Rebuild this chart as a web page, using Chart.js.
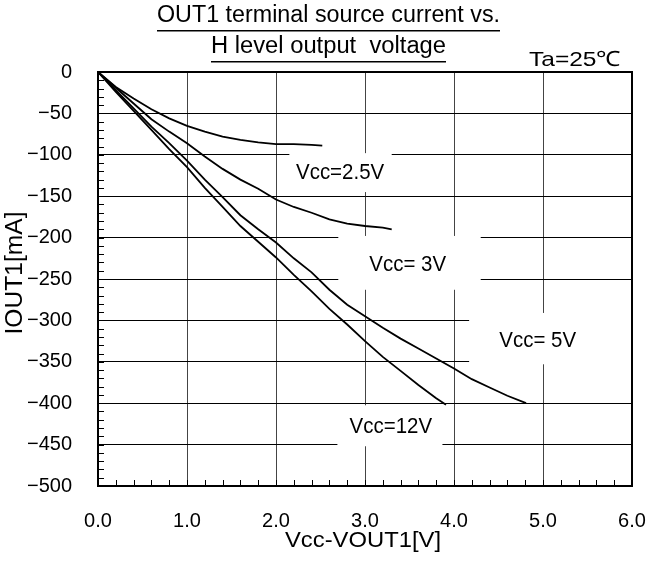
<!DOCTYPE html>
<html>
<head>
<meta charset="utf-8">
<script src="https://cdn.jsdelivr.net/npm/chart.js@4.4.0/dist/chart.umd.min.js"></script>
<style>
  html, body { margin: 0; padding: 0; background: #fff; }
</style>
</head>
<body>
<canvas id="chart" width="647" height="561"></canvas>
<script>
// ---- data ----
const vcc25X = [0, 0.2, 0.4, 0.6, 0.8, 1.0, 1.2, 1.4, 1.6, 1.8, 2.0, 2.2, 2.4, 2.52];
const vcc25Y = [0, -18, -32, -45, -56, -65, -72, -78, -82, -85, -87, -87, -88, -89];

const vcc3X = [0, 0.2, 0.4, 0.6, 0.8, 1.0, 1.2, 1.4, 1.6, 1.8, 2.0, 2.2, 2.4, 2.6, 2.8, 3.0, 3.2, 3.3];
const vcc3Y = [0, -19, -38, -57, -72, -86, -102, -117, -130, -141, -154, -163, -170, -178, -183, -186, -188, -190];

const vcc5X = [0, 0.2, 0.4, 0.6, 0.8, 1.0, 1.2, 1.4, 1.6, 1.8, 2.0, 2.2, 2.4, 2.6, 2.8, 3.0, 3.2, 3.4, 3.6, 3.8, 4.0, 4.2, 4.4, 4.6, 4.81];
const vcc5Y = [0, -22, -44, -66, -86, -107, -130, -151, -173, -190, -206, -225, -242, -263, -281, -295, -309, -322, -334, -346, -358, -371, -381, -391, -400];

const vcc12X = [0, 0.2, 0.4, 0.6, 0.8, 1.0, 1.2, 1.4, 1.6, 1.8, 2.0, 2.2, 2.4, 2.6, 2.8, 3.0, 3.2, 3.4, 3.6, 3.8, 3.91];
const vcc12Y = [0, -24, -47, -70, -93, -115, -140, -163, -186, -205, -224, -245, -265, -286, -305, -325, -344, -361, -378, -394, -402];

const seriesNames = ['Vcc=2.5V', 'Vcc= 3V', 'Vcc= 5V', 'Vcc=12V'];

const xMin = 0, xMax = 6, xStep = 1, xMinor = 0.2;
const yMin = -500, yMax = 0, yStep = 50, yMinor = 10;

const FONT = '"Liberation Sans", Arial, sans-serif';

function toPoints(xs, ys) {
  return xs.map((x, i) => ({ x: x, y: ys[i] }));
}

// draw text at a given font size, squeezed sideways to cover the given width
function drawFitted(ctx, text, x, y, size, width) {
  ctx.save();
  ctx.font = size + 'px ' + FONT;
  const sx = width / ctx.measureText(text).width;
  ctx.translate(x, y);
  ctx.scale(sx, 1);
  ctx.fillText(text, 0, 0);
  ctx.restore();
}

// curve names sit on white patches that hide the grid (data units)
const labelBoxes = [
  { text: seriesNames[0], x0: 2.15, x1: 3.3, y0: -98, y1: -145, tx: 2.72, ty: -122 },
  { text: seriesNames[1], x0: 2.70, x1: 4.30, y0: -198, y1: -263, tx: 3.48, ty: -233 },
  { text: seriesNames[2], x0: 4.17, x1: 6.0, y0: -291, y1: -353, tx: 4.94, ty: -325 },
  { text: seriesNames[3], x0: 2.69, x1: 3.87, y0: -402.5, y1: -452, tx: 3.29, ty: -429 }
];

const decorPlugin = {
  id: 'decor',
  beforeDatasetsDraw(chart) {
    const ctx = chart.ctx;
    const xs = chart.scales.x, ys = chart.scales.y;
    ctx.save();
    labelBoxes.forEach(b => {
      const l = xs.getPixelForValue(b.x0), r = xs.getPixelForValue(b.x1);
      const t = ys.getPixelForValue(b.y0), bt = ys.getPixelForValue(b.y1);
      ctx.fillStyle = '#fff';
      ctx.fillRect(l, t, r - l, bt - t);
      ctx.fillStyle = '#000';
      ctx.textAlign = 'center';
      ctx.textBaseline = 'middle';
      ctx.font = '22px ' + FONT;
      const w = ctx.measureText(b.text).width * 0.93;
      drawFitted(ctx, b.text, xs.getPixelForValue(b.tx), ys.getPixelForValue(b.ty), 22, w);
    });
    ctx.restore();
  },
  afterDraw(chart) {
    const ctx = chart.ctx;
    const a = chart.chartArea;
    const xs = chart.scales.x, ys = chart.scales.y;
    ctx.save();
    // minor ticks, pointing inward
    ctx.strokeStyle = '#000';
    ctx.lineWidth = 1;
    ctx.beginPath();
    for (let v = yMin; v <= yMax; v += yMinor) {
      const py = Math.round(ys.getPixelForValue(v)) + 0.5;
      ctx.moveTo(a.left, py);
      ctx.lineTo(a.left + 6, py);
    }
    for (let v = xMin; v <= xMax + 1e-9; v += xMinor) {
      const px = Math.round(xs.getPixelForValue(v)) + 0.5;
      ctx.moveTo(px, a.bottom);
      ctx.lineTo(px, a.bottom - 6);
    }
    ctx.stroke();
    // frame
    ctx.lineWidth = 2;
    ctx.strokeRect(a.left, a.top, a.right - a.left, a.bottom - a.top);

    // titles (underlined)
    ctx.fillStyle = '#000';
    ctx.textAlign = 'center';
    ctx.textBaseline = 'middle';
    const titles = [
      { text: 'OUT1 terminal source current vs.', x: 328.5, y: 16, w: 343, ul: 30 },
      { text: 'H level output  voltage', x: 328.5, y: 47, w: 235, ul: 61 }
    ];
    titles.forEach(t => {
      drawFitted(ctx, t.text, t.x, t.y, 23, t.w);
      ctx.fillRect(t.x - t.w / 2, t.ul, t.w, 1.5);
    });
    drawFitted(ctx, 'Ta=25\u2103', 575, 60, 21, 92);

    // axis titles
    drawFitted(ctx, 'Vcc-VOUT1[V]', 363, 541, 22, 156);
    ctx.translate(16, 273);
    ctx.rotate(-Math.PI / 2);
    drawFitted(ctx, 'IOUT1[mA]', 0, 0, 23, 123);
    ctx.restore();
  }
};

const lineStyle = {
  showLine: true,
  borderColor: '#000',
  borderWidth: 1.8,
  pointRadius: 0,
  fill: false,
  tension: 0
};

new Chart(document.getElementById('chart'), {
  type: 'scatter',
  data: {
    datasets: [
      Object.assign({ label: seriesNames[0], data: toPoints(vcc25X, vcc25Y) }, lineStyle),
      Object.assign({ label: seriesNames[1], data: toPoints(vcc3X, vcc3Y) }, lineStyle),
      Object.assign({ label: seriesNames[2], data: toPoints(vcc5X, vcc5Y) }, lineStyle),
      Object.assign({ label: seriesNames[3], data: toPoints(vcc12X, vcc12Y) }, lineStyle)
    ]
  },
  options: {
    responsive: false,
    animation: false,
    layout: { padding: { top: 72, right: 15, left: 0, bottom: 0 } },
    plugins: {
      legend: { display: false },
      tooltip: { enabled: false }
    },
    scales: {
      x: {
        type: 'linear',
        min: xMin,
        max: xMax,
        afterFit(scale) {
          scale.height = 75;
          // tick padding is otherwise added to the side padding as well
          scale.paddingLeft = 14;
          scale.paddingRight = 14;
        },
        ticks: {
          stepSize: xStep,
          color: '#000',
          padding: 23,
          maxRotation: 0,
          font: { family: FONT, size: 20 },
          callback: v => v.toFixed(1)
        },
        grid: { color: '#444', lineWidth: 1, drawTicks: false },
        border: { display: true, color: '#000', width: 2 }
      },
      y: {
        type: 'linear',
        min: yMin,
        max: yMax,
        afterFit(scale) { scale.width = 98; },
        ticks: {
          stepSize: yStep,
          color: '#000',
          padding: 26,
          font: { family: FONT, size: 20 },
          callback: v => String(v).replace('-', '\u2212')
        },
        grid: { color: '#000', lineWidth: 1, drawTicks: false },
        border: { display: true, color: '#000', width: 2 }
      }
    }
  },
  plugins: [decorPlugin]
});
</script>
</body>
</html>
